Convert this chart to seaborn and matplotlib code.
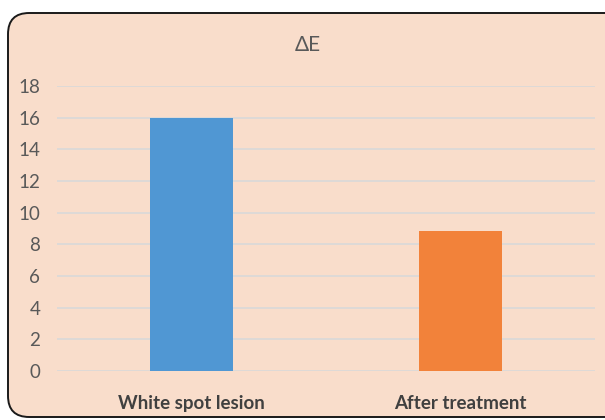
import matplotlib
matplotlib.use("Agg")
import matplotlib.pyplot as plt
import seaborn as sns
import pandas as pd
from matplotlib.patches import FancyBboxPatch

categories = ["White spot lesion", "After treatment"]
values = [16.0, 8.83]
bar_colors = ["#5097D3", "#F2823A"]
y_ticks = [0, 2, 4, 6, 8, 10, 12, 14, 16, 18]
title = "ΔE"

sns.set_theme(style="white")
plt.rcParams["font.family"] = ["Lato", "DejaVu Sans"]

W, H = 605, 420
fig = plt.figure(figsize=(W / 100, H / 100), dpi=100)
fig.patch.set_facecolor("white")

# rounded chart-area background
bg = FancyBboxPatch((8 / W, 3 / H), (640 - 8) / W, (417 - 13) / H,
                    boxstyle="round,pad=0,rounding_size=0.035",
                    transform=fig.transFigure, facecolor="#F9DDCB",
                    edgecolor="#1a1a1a", linewidth=1.4, zorder=-5,
                    mutation_aspect=W / H)
fig.patches.append(bg)

ax = fig.add_axes([57 / W, 1 - 371 / H, (595 - 57) / W, (371 - 86) / H])
ax.set_facecolor("none")
ax.set_zorder(2)

df = pd.DataFrame({"cat": categories, "val": values})
sns.barplot(data=df, x="cat", y="val", hue="cat", palette=bar_colors,
            width=0.31, legend=False, ax=ax, zorder=3, saturation=1,
            linewidth=0, edgecolor="none")

ax.set_ylim(0, 18)
ax.set_yticks(y_ticks)
ax.set_yticklabels([str(t) for t in y_ticks], fontsize=13.5, color="#595959")
ax.set_xlim(-0.5, 1.5)
ax.tick_params(axis="x", labelsize=13.5, colors="#404040", pad=17, length=0)
ax.tick_params(axis="y", length=0, pad=12)
for lbl in ax.get_xticklabels():
    lbl.set_fontweight("bold")
ax.set_xlabel("")
ax.set_ylabel("")
ax.yaxis.grid(True, color="#D9D9D9", linewidth=1.2, zorder=0)
ax.set_axisbelow(True)
for s in ax.spines.values():
    s.set_visible(False)

fig.text(308 / W, 1 - 45 / H, title, ha="center", va="center",
         fontsize=15, color="#595959", zorder=3)

fig.savefig("out.png", dpi=100, facecolor="white")
